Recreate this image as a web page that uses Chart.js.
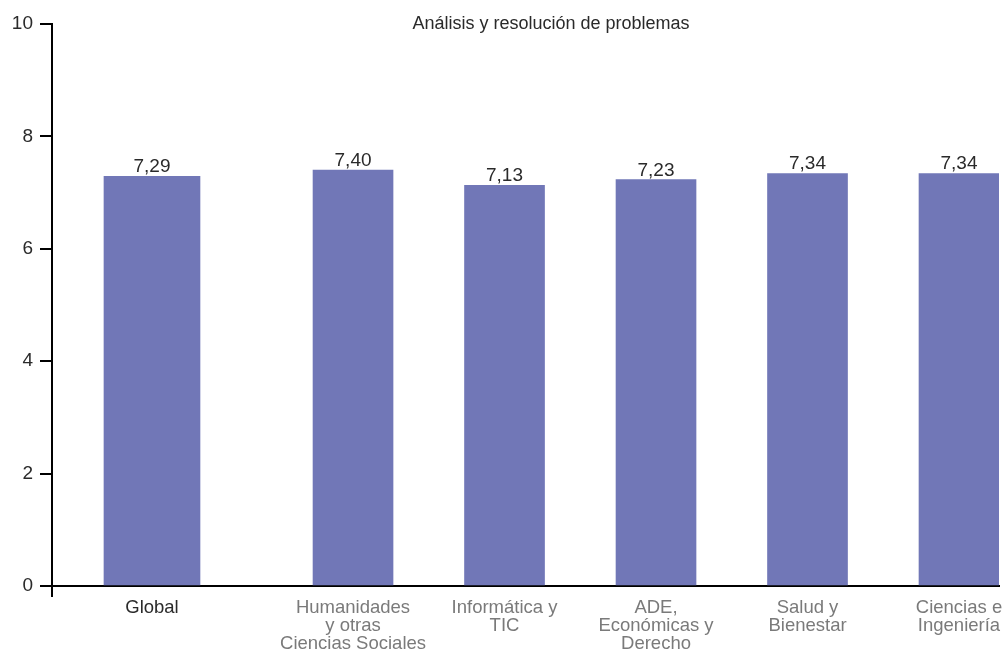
<!DOCTYPE html>
<html>
<head>
<meta charset="utf-8">
<script src="https://cdn.jsdelivr.net/npm/chart.js@4/dist/chart.umd.min.js"></script>
<style>
  html, body { margin: 0; padding: 0; background: #fff; overflow: hidden; }
  #wrap { position: relative; width: 1003px; height: 652px; }
  #title {
    position: absolute; left: 351px; top: 12px; width: 400px;
    text-align: center; font: 18px "Liberation Sans", Arial, sans-serif; color: #2a2a2a;
    white-space: nowrap; line-height: 22px;
  }
</style>
</head>
<body>
<div id="wrap">
  <canvas id="chart" width="1003" height="652"></canvas>
  <div id="title"></div>
</div>
<script>
// Puntuación media por rama de conocimiento
const chartTitle = 'Análisis y resolución de problemas';
const categories = [
  ['Global'],
  ['Humanidades', 'y otras', 'Ciencias Sociales'],
  ['Informática y', 'TIC'],
  ['ADE,', 'Económicas y', 'Derecho'],
  ['Salud y', 'Bienestar'],
  ['Ciencias e', 'Ingeniería']
];
const scores = [7.29, 7.40, 7.13, 7.23, 7.34, 7.34];
const yTicks = [0, 2, 4, 6, 8, 10];

document.getElementById('title').textContent = chartTitle;

const FONT = '"Liberation Sans", Arial, sans-serif';
const BAR = 'rgb(113,119,183)';
// the overall bar sits apart from the branch bars
const GLOBAL_GAP = 0.327;
const slot = i => i + (i > 0 ? GLOBAL_GAP : 0);

const fmt = v => v.toFixed(2).replace('.', ',');

const valueLabels = {
  id: 'valueLabels',
  afterDatasetsDraw(chart) {
    const ctx = chart.ctx;
    ctx.save();
    ctx.font = '19px ' + FONT;
    ctx.fillStyle = '#2a2a2a';
    ctx.textAlign = 'center';
    ctx.textBaseline = 'alphabetic';
    chart.data.datasets.forEach((ds, di) => {
      chart.getDatasetMeta(di).data.forEach((el, i) => {
        ctx.fillText(fmt(ds.data[i].y), el.x, el.y - 4);
      });
    });
    ctx.restore();
  }
};

// short downward extension of the value axis below the baseline
const axisFoot = {
  id: 'axisFoot',
  afterDraw(chart) {
    const { ctx, chartArea } = chart;
    ctx.save();
    ctx.strokeStyle = '#000';
    ctx.lineWidth = 2;
    ctx.beginPath();
    ctx.moveTo(chartArea.left, chartArea.bottom);
    ctx.lineTo(chartArea.left, chartArea.bottom + 11);
    ctx.stroke();
    ctx.restore();
  }
};

new Chart(document.getElementById('chart'), {
  type: 'bar',
  data: {
    datasets: [
      {
        data: [{ x: slot(0), y: scores[0] }],
        backgroundColor: BAR,
        barThickness: 96,
        grouped: false
      },
      {
        data: scores.slice(1).map((v, i) => ({ x: slot(i + 1), y: v })),
        backgroundColor: BAR,
        barThickness: 80,
        grouped: false
      }
    ]
  },
  options: {
    responsive: false,
    animation: false,
    layout: { padding: { top: 24, right: 4, bottom: 0, left: 0 } },
    plugins: { legend: { display: false }, tooltip: { enabled: false }, title: { display: false } },
    scales: {
      x: {
        type: 'linear',
        min: -0.660,
        max: 5.591,
        offset: false,
        afterBuildTicks: s => { s.ticks = categories.map((c, i) => ({ value: slot(i) })); },
        afterFit: s => { s.height = 66; s.paddingLeft = 0; s.paddingRight = 0; },
        grid: { display: false },
        border: { display: true, color: '#000', width: 2 },
        ticks: {
          autoSkip: false,
          maxRotation: 0,
          padding: 5,
          callback: (v, i) => categories[i],
          color: c => (c.index === 0 ? '#2a2a2a' : '#7a7a7a'),
          font: { family: FONT, size: 18.5, lineHeight: '18px' }
        }
      },
      y: {
        min: 0,
        max: 10,
        afterBuildTicks: s => { s.ticks = yTicks.map(v => ({ value: v })); },
        afterFit: s => { s.width = 52; },
        grid: { display: true, drawOnChartArea: false, drawTicks: true, tickLength: 12, color: '#000', lineWidth: 2 },
        border: { display: true, color: '#000', width: 2 },
        ticks: {
          padding: 7,
          color: '#2a2a2a',
          font: { family: FONT, size: 19 }
        }
      }
    }
  },
  plugins: [valueLabels, axisFoot]
});
</script>
</body>
</html>
